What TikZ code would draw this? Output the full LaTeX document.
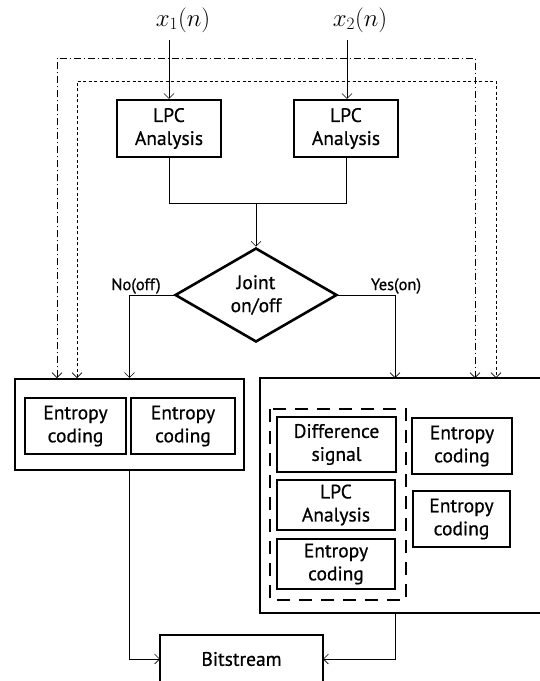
\documentclass[tikz,border=0pt]{standalone}
\usepackage{fontspec}
\setmainfont{PT Sans}[BoldFont={PT Sans},BoldFeatures={FakeBold=0.7}]
\usetikzlibrary{arrows.meta,shapes.geometric,calc}
\begin{document}
\begin{tikzpicture}[x=1pt,y=-1pt,
  box/.style={draw, line width=2.2pt, inner sep=0pt, align=center,
    font=\bfseries\fontsize{19.5}{23}\selectfont},
  conn/.style={line width=0.6pt, -{Straight Barb[length=5pt,width=10pt]}},
  plain/.style={line width=0.6pt},
  outer/.style={line width=2.2pt},
  dashdotline/.style={line width=0.6pt, dash pattern=on 7pt off 3pt on 1pt off 3pt,
    {Straight Barb[length=5pt,width=10pt]}-{Straight Barb[length=5pt,width=10pt]}},
  dotline/.style={line width=0.6pt, dash pattern=on 3pt off 2.5pt,
    {Straight Barb[length=5pt,width=10pt]}-{Straight Barb[length=5pt,width=10pt]}},
  lbl/.style={font=\bfseries\fontsize{16.5}{20}\selectfont, inner sep=0pt},
  mathlbl/.style={font=\fontsize{24}{28}\selectfont, inner sep=0pt}]
\useasboundingbox (0,0) rectangle (540,681);

% inputs
\node[mathlbl] (x1) at (183,20) {$x_1(n)$};
\node[mathlbl] (x2) at (360,20) {$x_2(n)$};
\coordinate (in1) at (169,40);
\coordinate (in2) at (347,40);

% LPC analysis boxes
\node[box, minimum width=104pt, minimum height=57pt] (lpc1) at (169,128.5) {LPC\\Analysis};
\node[box, minimum width=104pt, minimum height=57pt] (lpc2) at (346,128.5) {LPC\\Analysis};

\draw[conn] (in1) -- (in1 |- lpc1.north);
\draw[conn] (in2) -- (in2 |- lpc2.north);

% join and decision
\coordinate (j) at (256,203);
\node[draw, diamond, line width=2.6pt, inner sep=0pt, aspect=1.72,
  minimum width=162pt, minimum height=94pt, align=center,
  font=\bfseries\fontsize{19.5}{23}\selectfont] (dia) at (256,295) {Joint\\on/off};
\draw[plain] (lpc1.south) |- (j);
\draw[plain] (lpc2.south) |- (j);
\draw[conn] (j) -- (dia.north);

\node[lbl] (no) at (136,286) {No(off)};
\node[lbl] (yes) at (396,286) {Yes(on)};

% left box
\node[draw, outer, minimum width=229pt, minimum height=91pt] (lbox) at (129.5,424.5) {};
\node[box, minimum width=101pt, minimum height=56pt] (el1) at (75.5,426) {Entropy\\coding};
\node[box, minimum width=104pt, minimum height=56pt] (el2) at (183,426) {Entropy\\coding};

% right box (cut by the right edge)
\coordinate (rtl) at (260,378);
\coordinate (rbl) at (260,613);
\draw[outer] (545,378) -- (rtl) -- (rbl) -- (545,613);
\coordinate (rtop) at (395,378);
\coordinate (rbot) at (395,613);

\draw[line width=2.8pt, dash pattern=on 13pt off 9pt] (270,409) rectangle (406,600);
\node[box, minimum width=119pt, minimum height=55pt] (diff) at (336.5,444.5) {Difference\\signal};
\node[box, minimum width=118pt, minimum height=50pt] (lpc3) at (336,505) {LPC\\Analysis};
\node[box, minimum width=118pt, minimum height=50pt] (ec3) at (336,564) {Entropy\\coding};
\node[box, minimum width=100pt, minimum height=56pt] (er1) at (462,446) {Entropy\\coding};
\node[box, minimum width=97pt, minimum height=56pt] (er2) at (461.5,519) {Entropy\\coding};

\draw[conn] (dia.west) -| (lbox.north);
\draw[conn] (dia.east) -| (rtop);

% side lines
\coordinate (a1) at (57,378);
\coordinate (a2) at (475,378);
\coordinate (b1) at (77,378);
\coordinate (b2) at (496,378);
\draw[dashdotline] (a1) -- (57,58) -- (475,58) -- (a2);
\draw[dotline] (b1) -- (77,81) -- (496,81) -- (b2);

% bitstream
\draw[outer] (160,684) -- (160,635) -- (323,635) -- (323,684);
\node[font=\bfseries\fontsize{19.5}{23}\selectfont, inner sep=0pt] (bs) at (241.5,659) {Bitstream};
\coordinate (bsL) at (160,659);
\coordinate (bsR) at (323,659);
\draw[conn] (lbox.south) |- (bsL);
\draw[conn] (rbot) |- (bsR);
\end{tikzpicture}
\end{document}
